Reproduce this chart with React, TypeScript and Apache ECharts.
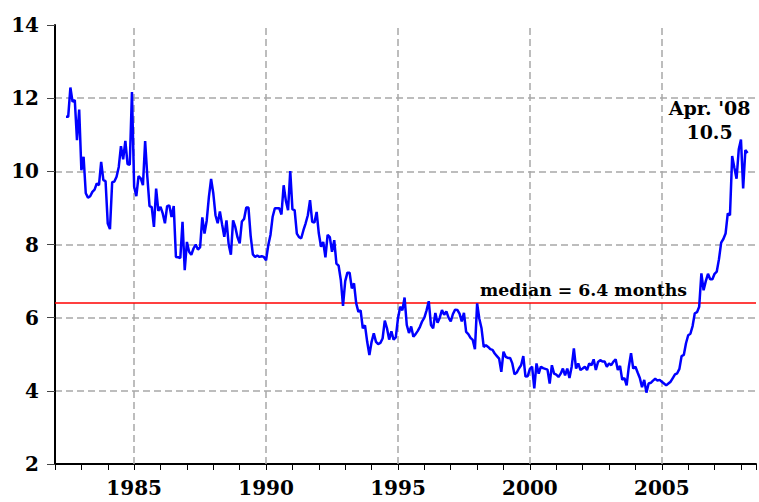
import React, { useEffect, useRef } from "react";
import * as echarts from "echarts";

// Months' supply, monthly, starting June 1982
const startYear = 1982;
const startMonth = 6;

const supply1982to1986 = [
  11.49, 11.49, 12.29, 11.9, 11.95, 10.85, 11.69, 10.03, 10.4, 9.4,
  9.28, 9.32, 9.44, 9.5, 9.67, 9.62, 10.26, 9.76, 9.73, 8.57,
  8.42, 9.7, 9.72, 9.85, 10.12, 10.69, 10.33, 10.83, 10.2, 10.18,
  12.17, 9.58, 9.32, 9.87, 9.81, 9.62, 10.83, 9.85, 9.05, 9.02,
  8.48, 9.53, 8.92, 9.03, 8.85, 8.58, 9.05, 9.07, 8.75, 9.05,
  7.66, 7.65,
];
const supply1986to1990 = [
  7.63, 8.62, 7.3, 8.07, 7.8, 7.72, 7.89, 8.0, 7.86, 7.93,
  8.74, 8.3, 8.65, 9.3, 9.79, 9.4, 8.8, 8.58, 8.9, 8.55,
  8.21, 8.66, 8.0, 7.72, 8.66, 8.48, 8.2, 8.03, 8.63, 8.7,
  9.01, 9.01, 8.23, 7.73, 7.66, 7.7, 7.66, 7.68, 7.66, 7.57,
  7.98, 8.26, 8.76, 8.99, 8.99, 8.99, 8.82, 9.62, 9.2, 8.94,
  10.01,
];
const supply1991to1995 = [
  8.96, 8.94, 8.3, 8.2, 8.17, 8.39, 8.58, 8.8, 9.21, 8.62,
  8.6, 8.89, 8.3, 7.94, 8.07, 7.65, 8.26, 8.2, 7.8, 8.12,
  7.48, 7.42, 7.03, 6.32, 7.0, 7.23, 7.23, 6.8, 6.94, 6.39,
  6.16, 6.2, 5.71, 5.79, 5.34, 4.98, 5.34, 5.57, 5.34, 5.28,
  5.31, 5.43, 5.92, 5.71, 5.4, 5.63, 5.4, 5.46, 5.98, 6.3,
  6.2, 6.55, 5.8, 5.58, 5.76, 5.48, 5.55,
];
const supply1995to2000 = [
  5.64, 5.75, 5.9, 6.0, 6.2, 6.45, 5.8, 5.71, 6.13, 5.86,
  6.0, 6.21, 6.08, 6.17, 6.0, 5.9, 6.1, 6.22, 6.21, 6.11,
  5.9, 6.13, 5.61, 5.55, 5.45, 5.39, 5.14, 6.39, 5.97, 5.71,
  5.2, 5.25, 5.2, 5.14, 5.12, 5.02, 4.95, 4.88, 4.52, 5.07,
  4.93, 4.9, 4.9, 4.75, 4.45, 4.5, 4.61, 4.7, 4.95, 4.39,
  4.4,
];
const supply2000to2005 = [
  4.6, 4.66, 4.07, 4.75, 4.47, 4.66, 4.62, 4.6, 4.58, 4.2,
  4.7, 4.47, 4.44, 4.38, 4.47, 4.61, 4.42, 4.61, 4.35, 4.66,
  5.16, 4.61, 4.75, 4.57, 4.61, 4.66, 4.57, 4.75, 4.7, 4.86,
  4.57, 4.79, 4.84, 4.8, 4.8, 4.66, 4.75, 4.7, 4.8, 4.86,
  4.57, 4.68, 4.3, 4.35, 4.15, 4.66, 5.03, 4.61, 4.66, 4.5,
  4.35, 4.1, 4.3, 3.95, 4.2, 4.22, 4.28, 4.33, 4.28, 4.3,
];
const supply2005to2008 = [
  4.25, 4.2, 4.15, 4.2, 4.25, 4.35, 4.45, 4.48, 4.6, 4.95,
  4.98, 5.3, 5.52, 5.56, 5.77, 6.12, 6.15, 6.3, 7.21, 6.75,
  7.0, 7.2, 7.05, 7.05, 7.2, 7.26, 7.6, 8.05, 8.15, 8.3,
  8.85, 8.8, 10.42, 10.1, 9.8, 10.6, 10.87, 9.53, 10.58, 10.5,
];

const monthsSupply = [
  ...supply1982to1986,
  ...supply1986to1990,
  ...supply1991to1995,
  ...supply1995to2000,
  ...supply2000to2005,
  ...supply2005to2008,
];

const gridYears = [1985, 1990, 1995, 2000, 2005];
const medianValue = 6.4;
const medianText = "median = 6.4 months";
const lastText = "Apr. '08";

const FONT = "DejaVu Serif";

export default function App() {
  const ref = useRef<HTMLDivElement>(null);
  useEffect(() => {
    const chart = echarts.init(ref.current!, null, { renderer: "svg" });
    const data = monthsSupply.map((v, i) => [
      startYear + (startMonth - 1 + i) / 12,
      v,
    ]);
    const last = data[data.length - 1];
    const dashed = { color: "#a8a8a8", type: [7, 4] as any, width: 1.5 };
    chart.setOption({
      animation: false,
      backgroundColor: "#ffffff",
      grid: { left: 55, right: 0, top: 25, bottom: 38 },
      xAxis: {
        type: "value",
        min: 1982,
        max: 2008.57,
        interval: 1,
        axisLine: { show: true, lineStyle: { color: "#000", width: 2 } },
        axisTick: { show: true, length: 6, lineStyle: { color: "#000", width: 1 } },
        axisLabel: {
          formatter: (v: number) =>
            Math.abs(v % 5) < 1e-6 ? String(Math.round(v)) : "",
          fontFamily: FONT,
          fontWeight: "bold",
          fontSize: 20,
          color: "#000",
          margin: 14,
        },
        splitLine: { show: false },
      },
      yAxis: {
        type: "value",
        min: 2,
        max: 14,
        interval: 2,
        axisLine: { show: true, lineStyle: { color: "#000", width: 2 } },
        axisTick: { show: true, length: 8, lineStyle: { color: "#444", width: 1 } },
        axisLabel: {
          fontFamily: FONT,
          fontWeight: "bold",
          fontSize: 20,
          color: "#000",
          margin: 16,
        },
        splitLine: {
          show: true,
          showMinLine: false,
          showMaxLine: false,
          lineStyle: dashed,
        },
      },
      series: [
        {
          type: "line",
          data,
          symbol: "none",
          showSymbol: false,
          z: 5,
          lineStyle: { color: "#0000ff", width: 2.5 },
          markLine: {
            silent: true,
            symbol: "none",
            label: { show: false },
            lineStyle: dashed,
            data: gridYears.map((y) => ({ xAxis: y })),
          },
          markPoint: {
            silent: true,
            symbol: "circle",
            symbolSize: 0,
            data: [{ coord: last }],
            label: {
              show: true,
              position: "inside",
              formatter: `${lastText}\n${last[1]}`,
              fontFamily: FONT,
              fontWeight: "bold",
              fontSize: 19,
              lineHeight: 24,
              color: "#000",
              align: "center",
              offset: [-38, -33],
            },
          },
        },
        {
          type: "line",
          data: [],
          z: 4,
          markLine: {
            silent: true,
            symbol: "none",
            lineStyle: { color: "#ff0000", width: 1.6, type: "solid" },
            label: {
              show: true,
              position: "insideEndTop",
              formatter: medianText,
              fontFamily: FONT,
              fontWeight: "bold",
              fontSize: 17.3,
              color: "#000",
              padding: [0, 64, 0, 0],
            },
            data: [{ yAxis: medianValue }],
          },
        },
      ],
    });
    return () => chart.dispose();
  }, []);
  return (
    <div
      ref={ref}
      style={{ position: "fixed", left: 0, top: 0, width: 759, height: 502 }}
    />
  );
}
